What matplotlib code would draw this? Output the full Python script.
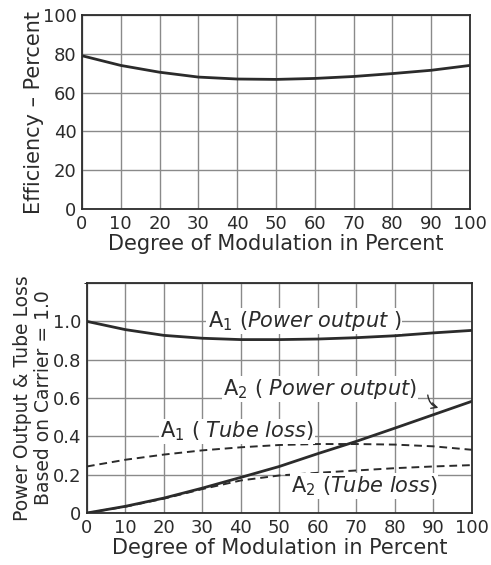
import matplotlib.pyplot as plt

# modulation in percent, shared by both panels
modulation = [0, 10, 20, 30, 40, 50, 60, 70, 80, 90, 100]

# top panel: plate efficiency
efficiency = [79, 74, 70.5, 68, 67, 66.8, 67.3, 68.3, 69.8, 71.5, 74]

# bottom panel: power output and tube loss, carrier = 1.0
a1_power = [1.0, 0.957, 0.927, 0.912, 0.905, 0.905, 0.908, 0.915, 0.925, 0.94, 0.953]
a2_power = [0.0, 0.035, 0.078, 0.13, 0.186, 0.243, 0.31, 0.374, 0.443, 0.513, 0.583]
a1_loss = [0.243, 0.278, 0.305, 0.327, 0.343, 0.355, 0.36, 0.36, 0.357, 0.348, 0.33]
a2_loss = [0.0, 0.033, 0.075, 0.125, 0.17, 0.196, 0.21, 0.222, 0.234, 0.243, 0.25]

ink = '#2b2b2b'
grid_c = '#8a8a8a'
fs = 13

fig = plt.figure(figsize=(4.91, 5.65), dpi=100)
ax1 = fig.add_axes([0.167, 0.630, 0.790, 0.3435])
ax2 = fig.add_axes([0.177, 0.092, 0.784, 0.407])


def style(ax):
    ax.set_xlim(0, 100)
    ax.set_xticks(range(0, 101, 10))
    ax.grid(True, color=grid_c, linewidth=1.0)
    ax.set_axisbelow(True)
    ax.tick_params(length=0, labelsize=fs, colors=ink, pad=4)
    for s in ax.spines.values():
        s.set_color(ink)
        s.set_linewidth(1.3)
    ax.set_xlabel('Degree of Modulation in Percent', fontsize=15, color=ink, labelpad=1)


# top chart
style(ax1)
ax1.plot(modulation, efficiency, color=ink, lw=2.0)
ax1.set_ylim(0, 100)
ax1.set_yticks(range(0, 101, 20))
ax1.set_ylabel('Efficiency – Percent', fontsize=15, color=ink, labelpad=-1)

# bottom chart
style(ax2)
ax2.set_ylim(0, 1.2)
ax2.set_yticks([0, 0.2, 0.4, 0.6, 0.8, 1.0])
ax2.set_yticks([1.2], minor=True)
ax2.grid(True, which='minor', color=grid_c, linewidth=1.0)
ax2.set_yticklabels(['0', '0.2', '0.4', '0.6', '0.8', '1.0'])
ax2.plot(modulation, a2_loss, color=ink, lw=1.4, ls=(0, (4, 2.5)))
ax2.plot(modulation, a1_loss, color=ink, lw=1.4, ls=(0, (4, 2.5)))
ax2.plot(modulation, a1_power, color=ink, lw=2.0)
ax2.plot(modulation, a2_power, color=ink, lw=2.0)
ax2.set_ylabel('Power Output & Tube Loss\nBased on Carrier = 1.0', fontsize=13.5,
               color=ink, labelpad=0, linespacing=1.15)

box = dict(boxstyle='square,pad=0.05', facecolor='white', edgecolor='none')
tk = dict(fontsize=15, color=ink, bbox=box, ha='center', va='center')
ax2.text(56.5, 1.0, r'A$_1$ $\mathit{(Power\ output\ )}$', **tk)
ax2.text(60.5, 0.645, r'A$_2$ $\mathit{(\ Power\ output)}$', **tk)
ax2.text(39, 0.425, r'A$_1$ $\mathit{(\ Tube\ loss)}$', **tk)
ax2.text(72, 0.14, r'A$_2$ $\mathit{(Tube\ loss)}$', **tk)
ax2.annotate('', xy=(92, 0.545), xytext=(88.5, 0.63),
             arrowprops=dict(arrowstyle='->', color=ink, lw=1.0,
                             connectionstyle='arc3,rad=0.4'))

fig.savefig('out.png', dpi=100)
